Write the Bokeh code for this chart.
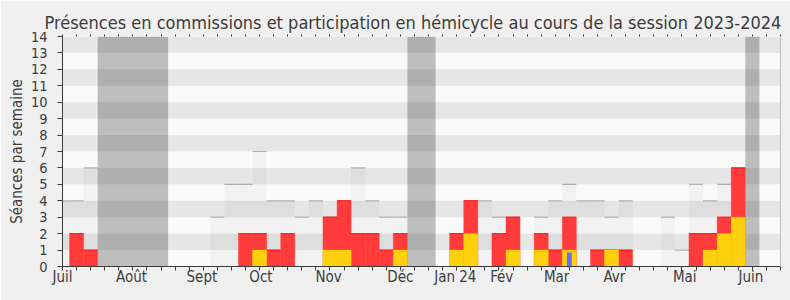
from bokeh.plotting import figure
from bokeh.models import Range1d, FixedTicker, LinearAxis, CustomJSTickFormatter
from bokeh.embed import file_html
from bokeh.resources import INLINE

# ---- data (one entry per week, session 2023-2024) ----
weeks = list(range(52))
hemicycle_total = [4, 4, 6, 0, 0, 0, 0, 0, 0, 0, 0, 3, 5, 5, 7, 4, 4, 3, 4, 3,
                   4, 6, 4, 3, 3, 0, 0, 0, 2, 4, 4, 3, 3, 0, 3, 4, 5, 4, 4, 3,
                   4, 0, 0, 3, 1, 5, 4, 5, 6, 0, 0, 0]
commission = [0, 2, 1, 0, 0, 0, 0, 0, 0, 0, 0, 0, 0, 2, 2, 1, 2, 0, 0, 3,
              4, 2, 2, 1, 2, 0, 0, 0, 2, 4, 0, 2, 3, 0, 2, 1, 3, 0, 1, 1,
              1, 0, 0, 0, 0, 2, 2, 3, 6, 0, 0, 0]
hemicycle = [0, 0, 0, 0, 0, 0, 0, 0, 0, 0, 0, 0, 0, 0, 1, 0, 0, 0, 0, 1,
             1, 0, 0, 0, 1, 0, 0, 0, 1, 2, 0, 0, 1, 0, 1, 0, 1, 0, 0, 1,
             0, 0, 0, 0, 0, 0, 1, 2, 3, 0, 0, 0]
questions = [0] * 36 + [0.85] + [0] * 15
vacances = [3, 4, 5, 6, 7, 25, 26, 49]
month_pos = [0, 4.9, 9.9, 14.1, 18.9, 24.0, 27.9, 31.2, 35.1, 39.2, 44.2, 48.9]
month_labels = ["Juil", "Août", "Sept", "Oct", "Nov", "Déc", "Jan 24", "Fév",
                "Mar", "Avr", "Mai", "Juin"]
y_ticks = list(range(15))

FONT = "DejaVu Sans Condensed"
TXT = "#3c3c3c"

p = figure(width=790, height=300, output_backend="svg", toolbar_location=None,
           x_range=Range1d(0, 51), y_range=Range1d(0, 14),
           min_border_left=62, min_border_right=10, min_border_top=36,
           min_border_bottom=34,
           title="Présences en commissions et participation en hémicycle au cours de la session 2023-2024")
p.background_fill_color = "#fafafa"
p.border_fill_color = "#f0f0f0"
p.outline_line_color = None
p.xgrid.visible = False
p.ygrid.visible = False

p.title.text_font = FONT
p.title.text_font_size = "18px"
p.title.text_font_style = "normal"
p.title.text_color = TXT
p.title.align = "left"
p.title.offset = -18
p.title.standoff = 3

# vacation periods, merged into contiguous blocks
blocks = []
for w in vacances:
    if blocks and w == blocks[-1][1] + 1:
        blocks[-1][1] = w
    else:
        blocks.append([w, w])
p.quad(left=[b[0] - 0.5 for b in blocks], right=[b[1] + 0.5 for b in blocks],
       bottom=0, top=14, fill_color="#bebebe", line_color=None)

# alternating horizontal stripes
stripe_y = [t + 0.5 for t in y_ticks[1:] if t % 2 == 1]
p.hbar(y=stripe_y, height=1, left=0, right=51, fill_color="#000000",
       fill_alpha=0.08, line_color=None)

# hemicycle activity (light gray)
gx = [w for w, v in zip(weeks, hemicycle_total) if v > 0]
gv = [v for v in hemicycle_total if v > 0]
p.vbar(x=gx, width=1, bottom=0, top=gv, fill_color="#000000", fill_alpha=0.03,
       line_color=None)
p.segment(x0=[x - 0.5 for x in gx], x1=[x + 0.5 for x in gx], y0=gv, y1=gv,
          line_color="#b0b0b0", line_width=1.2)

# commissions (red)
rx = [w for w, v in zip(weeks, commission) if v > 0]
rv = [v for v in commission if v > 0]
p.vbar(x=rx, width=1, bottom=0, top=rv, fill_color="#ff3b3b",
       line_color="#ff3b3b", line_width=0.4)
p.segment(x0=[x - 0.5 for x in rx], x1=[x + 0.5 for x in rx], y0=rv, y1=rv,
          line_color="#ff1010", line_width=1)

# hemicycle participation (yellow)
yx = [w for w, v in zip(weeks, hemicycle) if v > 0]
yv = [v for v in hemicycle if v > 0]
p.vbar(x=yx, width=1, bottom=0, top=yv, fill_color="#ffd00d",
       line_color="#ffd00d", line_width=0.4)

# questions (blue)
qx = [w for w, v in zip(weeks, questions) if v > 0]
qv = [v for v in questions if v > 0]
p.vbar(x=qx, width=0.35, bottom=0, top=qv, fill_color="#6b6bff", line_color=None)

# x axis
xa = p.xaxis[0]
xa.ticker = FixedTicker(ticks=month_pos, minor_ticks=weeks)
xa.major_label_overrides = {m: l for m, l in zip(month_pos, month_labels)}
xa.major_tick_out = 0
xa.major_tick_in = 0
xa.minor_tick_out = 4
xa.minor_tick_in = 0
xa.minor_tick_line_color = TXT
xa.axis_line_color = TXT
xa.major_label_standoff = -3
xa.major_label_text_font = FONT
xa.major_label_text_font_size = "15px"
xa.major_label_text_color = TXT

# y axis
ya = p.yaxis[0]
ya.ticker = FixedTicker(ticks=y_ticks, minor_ticks=[])
ya.major_tick_out = 5
ya.major_tick_in = 0
ya.major_tick_line_color = TXT
ya.axis_line_color = TXT
ya.major_label_standoff = 10
ya.major_label_text_font = FONT
ya.major_label_text_font_size = "14.5px"
ya.major_label_text_color = TXT
ya.axis_label = "Séances par semaine"
ya.axis_label_text_font = FONT
ya.axis_label_text_font_size = "15px"
ya.axis_label_text_font_style = "normal"
ya.axis_label_text_color = TXT
ya.axis_label_standoff = 2

# top dotted ticks
top = LinearAxis(ticker=FixedTicker(ticks=weeks, minor_ticks=[]),
                 formatter=CustomJSTickFormatter(code="return ''"),
                 axis_line_color=None, major_tick_out=2, major_tick_in=0,
                 major_tick_line_color="#333333", major_label_standoff=0)
p.add_layout(top, "above")

# right border
right = LinearAxis(ticker=FixedTicker(ticks=[], minor_ticks=[]),
                   axis_line_color="#c0c0c0", major_tick_out=0, major_tick_in=0,
                   major_label_standoff=0)
p.add_layout(right, "right")

open("out.html", "w").write(file_html(p, INLINE))
